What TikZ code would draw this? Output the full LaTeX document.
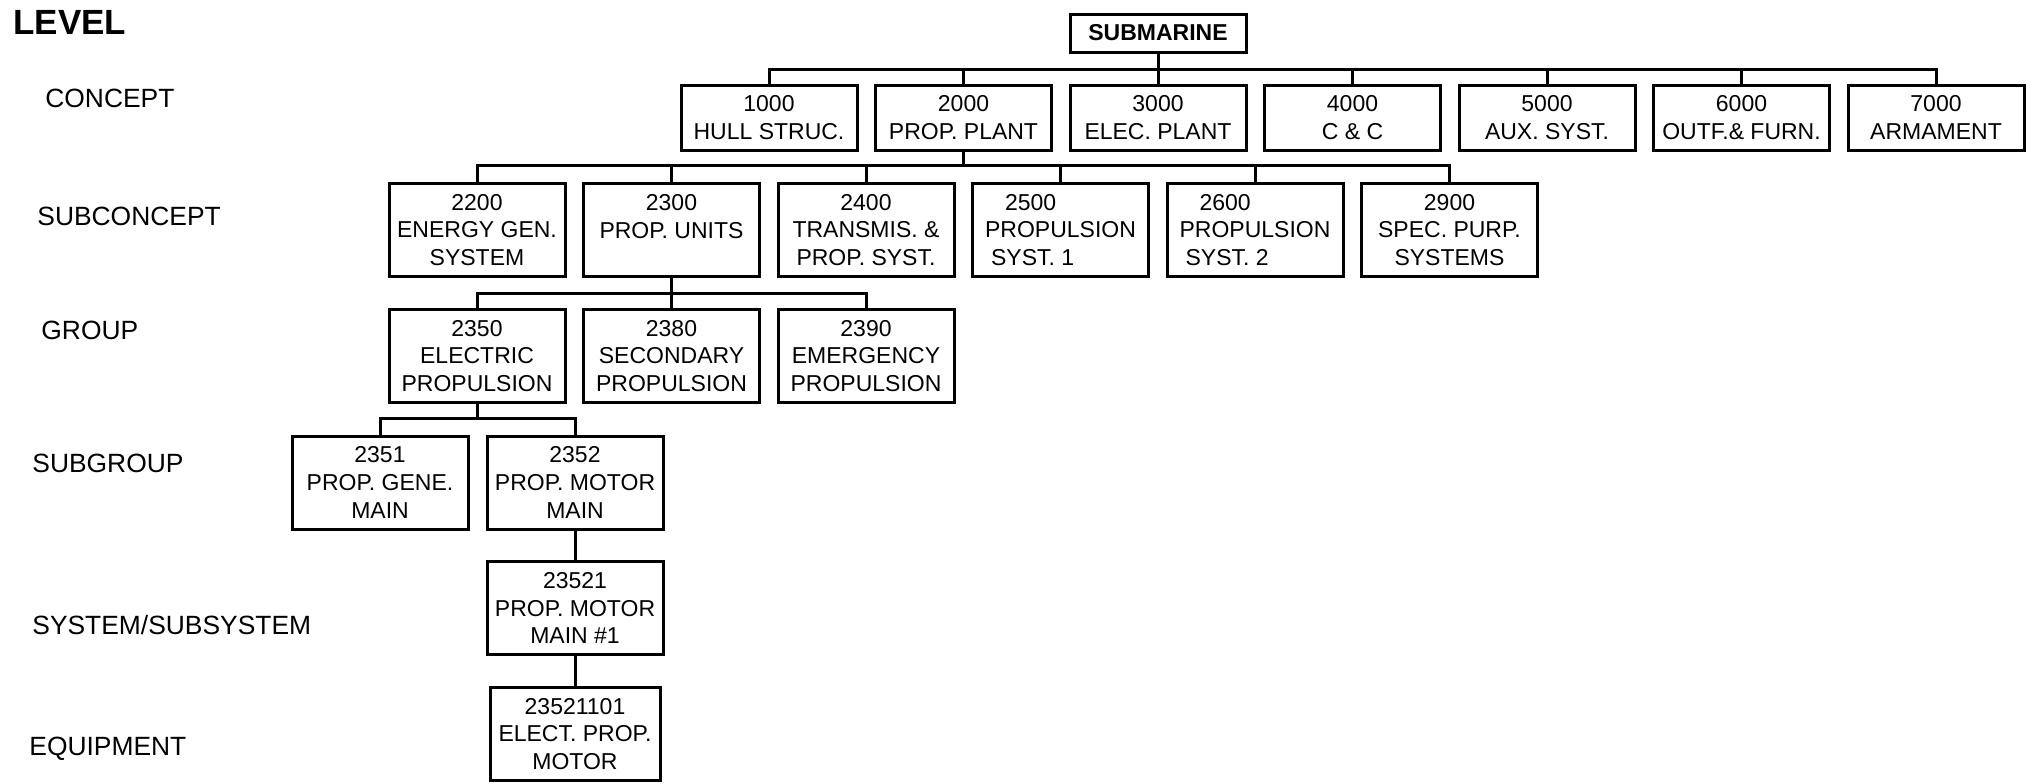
\documentclass[tikz,border=0pt]{standalone}
\usepackage{fontspec}
\setmainfont{Liberation Sans}
\usepackage{tikz}

\begin{document}
\begin{tikzpicture}[x=0.5pt,y=-0.5pt,
    box/.style={draw,line width=1.5pt,minimum width=88pt,minimum height=46.5pt,align=center,inner sep=0pt,font=\fontsize{11.5}{13.8}\selectfont},
    flatbox/.style={box,minimum height=32.5pt},
    lvl/.style={anchor=base west,inner sep=0pt,font=\fontsize{13.2}{15.8}\selectfont},
    link/.style={line width=1.5pt}]
    \useasboundingbox (0,0) rectangle (2031,783);
        \node[lvl,font=\bfseries\fontsize{17.5}{20}\selectfont] (level) at (13,34) {LEVEL};
        \node[lvl] (lconcept) at (45,107.5) {CONCEPT};
        \node[lvl] (lsubconcept) at (37,225.5) {SUBCONCEPT};
        \node[lvl] (lgroup) at (41,339.5) {GROUP};
        \node[lvl] (lsubgroup) at (32,472.5) {SUBGROUP};
        \node[lvl] (lsystem) at (32,634.5) {SYSTEM/SUBSYSTEM};
        \node[lvl] (lequip) at (29,755.5) {EQUIPMENT};

        \node[box,minimum height=19pt,font=\bfseries\fontsize{11.5}{13.8}\selectfont] (sub) at (1158,33) {SUBMARINE};

        \node[flatbox] (c1000) at (769,117.5) {1000\\HULL STRUC.};
        \node[flatbox] (c2000) at (963.5,117.5) {2000\\PROP. PLANT};
        \node[flatbox] (c3000) at (1158,117.5) {3000\\ELEC. PLANT};
        \node[flatbox] (c4000) at (1352.5,117.5) {4000\\C \& C};
        \node[flatbox] (c5000) at (1547,117.5) {5000\\AUX. SYST.};
        \node[flatbox] (c6000) at (1741.5,117.5) {6000\\OUTF.\& FURN.};
        \node[flatbox] (c7000) at (1936,117.5) {7000\\ARMAMENT};

        \node[box] (s2200) at (477,230) {2200\\ENERGY GEN.\\SYSTEM};
        \node[box] (s2300) at (671.5,230) {2300\\PROP. UNITS\\~};
        \node[box] (s2400) at (866,230) {2400\\TRANSMIS. \&\\PROP. SYST.};
        \node[box,align=left] (s2500) at (1060.5,230) {\hspace*{10pt}2500\\PROPULSION\\\hspace*{3pt}SYST. 1};
        \node[box,align=left] (s2600) at (1255,230) {\hspace*{10pt}2600\\PROPULSION\\\hspace*{3pt}SYST. 2};
        \node[box] (s2900) at (1449.5,230) {2900\\SPEC. PURP.\\SYSTEMS};

        \node[box] (g2350) at (477,356) {2350\\ELECTRIC\\PROPULSION};
        \node[box] (g2380) at (671.5,356) {2380\\SECONDARY\\PROPULSION};
        \node[box] (g2390) at (866,356) {2390\\EMERGENCY\\PROPULSION};

        \node[box] (sg2351) at (380,482.5) {2351\\PROP. GENE.\\MAIN};
        \node[box] (sg2352) at (575,482.5) {2352\\PROP. MOTOR\\MAIN};

        \node[box] (sy23521) at (575,608) {23521\\PROP. MOTOR\\MAIN \#1};

        \node[box,minimum width=85pt] (eq) at (575,734) {23521101\\ELECT. PROP.\\MOTOR};

        \draw[link] (sub.south) -- ++(0,16) -| (c1000.north);
        \draw[link] (sub.south) -- ++(0,16) -| (c2000.north);
        \draw[link] (sub.south) -- (c3000.north);
        \draw[link] (sub.south) -- ++(0,16) -| (c4000.north);
        \draw[link] (sub.south) -- ++(0,16) -| (c5000.north);
        \draw[link] (sub.south) -- ++(0,16) -| (c6000.north);
        \draw[link] (sub.south) -- ++(0,16) -| (c7000.north);

        \draw[link] (c2000.south) -- ++(0,14) -| (s2200.north);
        \draw[link] (c2000.south) -- ++(0,14) -| (s2300.north);
        \draw[link] (c2000.south) -- ++(0,14) -| (s2400.north);
        \draw[link] (c2000.south) -- ++(0,14) -| (s2500.north);
        \draw[link] (c2000.south) -- ++(0,14) -| (s2600.north);
        \draw[link] (c2000.south) -- ++(0,14) -| (s2900.north);

        \draw[link] (s2300.south) -- ++(0,15) -| (g2350.north);
        \draw[link] (s2300.south) -- (g2380.north);
        \draw[link] (s2300.south) -- ++(0,15) -| (g2390.north);

        \draw[link] (g2350.south) -- ++(0,14) -| (sg2351.north);
        \draw[link] (g2350.south) -- ++(0,14) -| (sg2352.north);

        \draw[link] (sg2352.south) -- (sy23521.north);
        \draw[link] (sy23521.south) -- (eq.north);
\end{tikzpicture}
\end{document}
